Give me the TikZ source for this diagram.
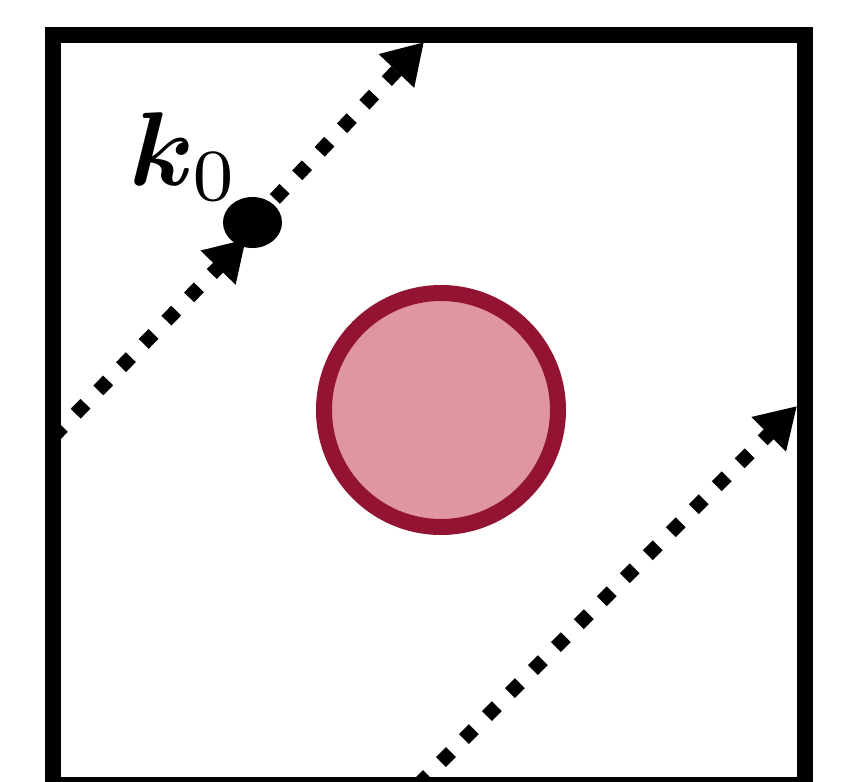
\documentclass[tikz,border=0pt]{standalone}
\usepackage{bm}
\usetikzlibrary{arrows.meta,shapes.geometric}
\definecolor{ringred}{HTML}{931432}
\definecolor{fillpink}{HTML}{E096A0}
\tikzset{
  dotline/.style={line width=7pt, line cap=butt, dash pattern=on 7pt off 9.25pt},
  tip/.style={-{Triangle[length=20pt,width=23pt]}},
  wall/.style={line width=8pt, line join=miter},
}
\begin{document}
\begin{tikzpicture}[x=0.5pt,y=-0.5pt]
\useasboundingbox (0,0) rectangle (842,782);
\clip (0,0) rectangle (842,782);
\fill[white] (0,0) rectangle (842,782);
% coordinates
\coordinate (a1) at (53,437);
\coordinate (a1end) at (246,239);
\coordinate (k0c) at (252.5,222.5);
\coordinate (a2end) at (424,42);
\coordinate (b1) at (418,785);
\coordinate (b2end) at (797,406);
% lines
\draw[dotline,tip] (a1) -- (a1end);
\draw[dotline,tip] (k0c) -- (a2end);
\draw[dotline,tip] (b1) -- (b2end);
% k0 point
\node[ellipse, fill=black, minimum width=29.5pt, minimum height=25.5pt, inner sep=0pt] (k0) at (k0c) {};
\node[anchor=base west, inner sep=0pt, scale=5.25] (k0lab) at (127,185) {$\bm{k}_0$};
% obstacle
\node[circle, draw=ringred, fill=fillpink, line width=8pt, minimum size=117pt, inner sep=0pt] (obst) at (441,410) {};
% box
\draw[wall] (53,35) rectangle (805,785);
\end{tikzpicture}
\end{document}
